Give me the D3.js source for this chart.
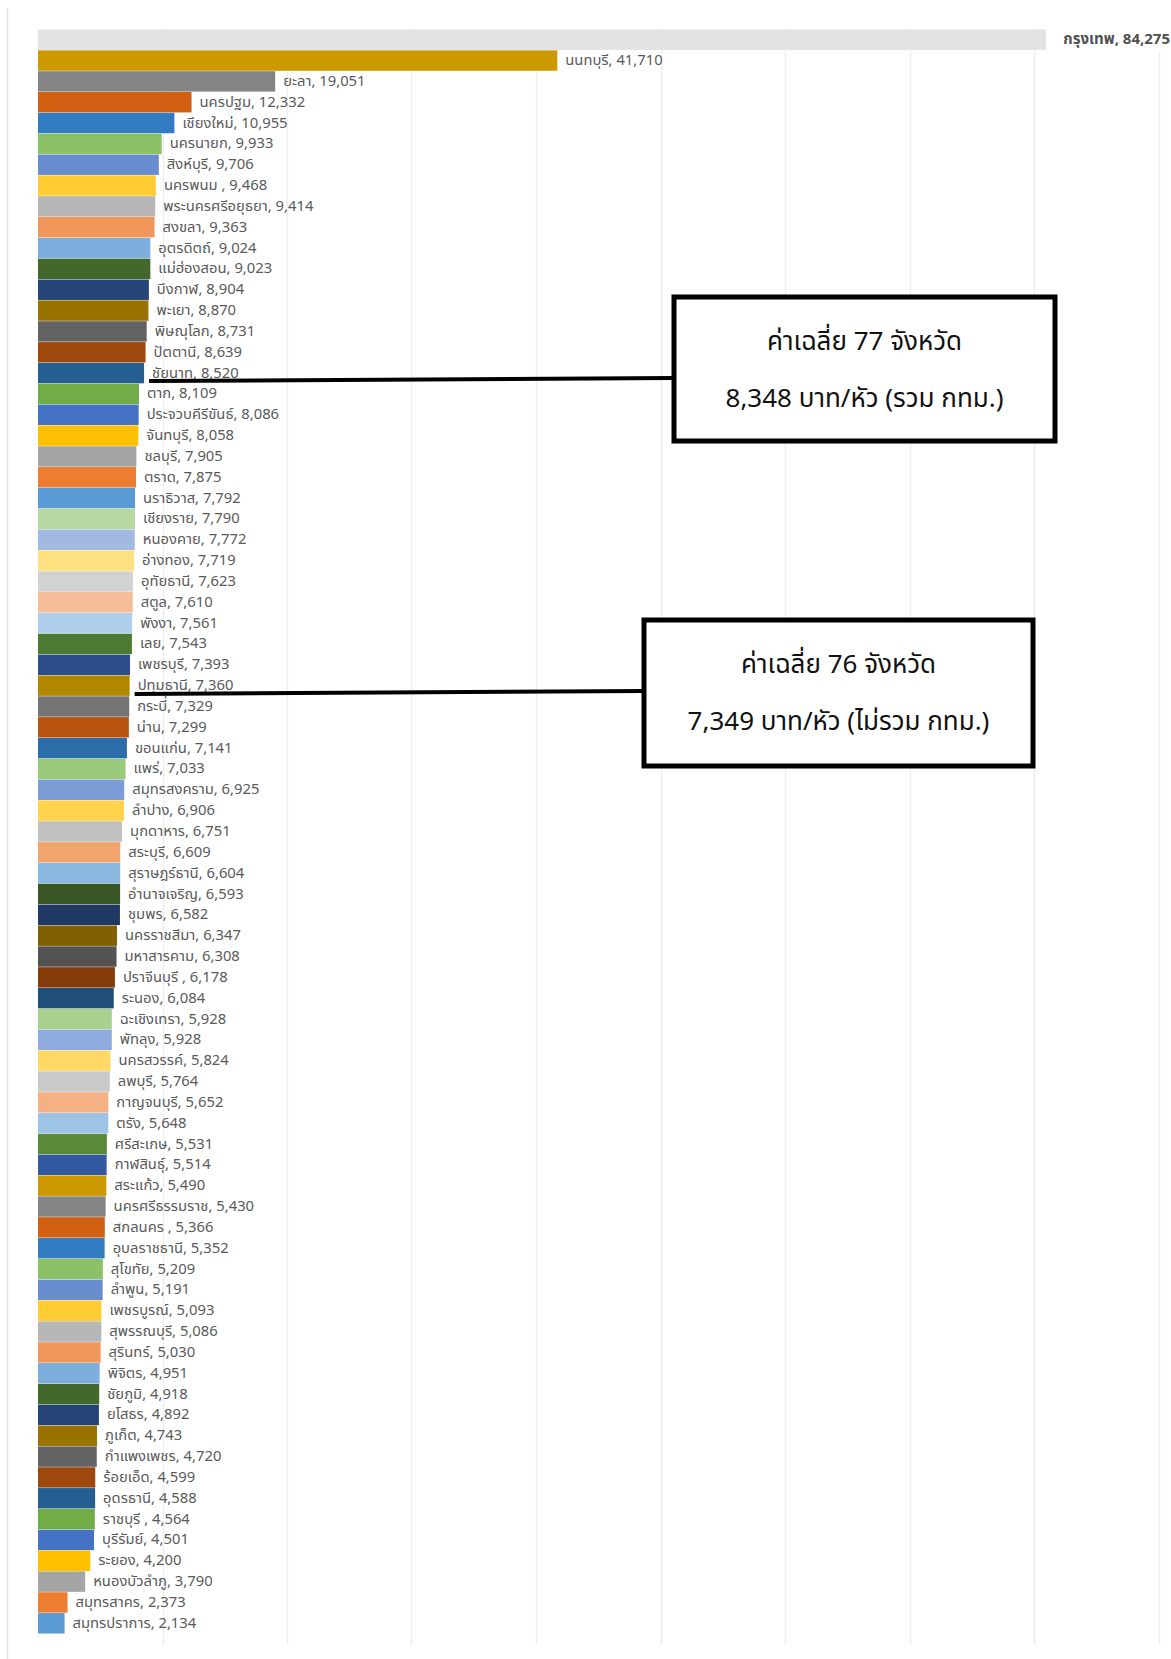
<!DOCTYPE html>
<html>
<head>
<meta charset="utf-8">
<script src="https://cdn.jsdelivr.net/npm/d3@7"></script>
<style>
  html, body { margin: 0; padding: 0; background: #ffffff; }
  svg { display: block; }
</style>
</head>
<body>
<svg id="chart" width="1171" height="1659"></svg>
<script>
// ---------- DATA (top to bottom as drawn) ----------
const provinces = ["กรุงเทพ","นนทบุรี","ยะลา","นครปฐม","เชียงใหม่","นครนายก","สิงห์บุรี","นครพนม ","พระนครศรีอยุธยา","สงขลา",
  "อุตรดิตถ์","แม่ฮ่องสอน","บึงกาฬ","พะเยา","พิษณุโลก","ปัตตานี","ชัยนาท","ตาก","ประจวบคีรีขันธ์","จันทบุรี",
  "ชลบุรี","ตราด","นราธิวาส","เชียงราย","หนองคาย","อ่างทอง","อุทัยธานี","สตูล","พังงา","เลย",
  "เพชรบุรี","ปทุมธานี","กระบี่","น่าน","ขอนแก่น","แพร่","สมุทรสงคราม","ลำปาง","มุกดาหาร","สระบุรี",
  "สุราษฎร์ธานี","อำนาจเจริญ","ชุมพร","นครราชสีมา","มหาสารคาม","ปราจีนบุรี ","ระนอง","ฉะเชิงเทรา","พัทลุง","นครสวรรค์",
  "ลพบุรี","กาญจนบุรี","ตรัง","ศรีสะเกษ","กาฬสินธุ์","สระแก้ว","นครศรีธรรมราช","สกลนคร ","อุบลราชธานี","สุโขทัย",
  "ลำพูน","เพชรบูรณ์","สุพรรณบุรี","สุรินทร์","พิจิตร","ชัยภูมิ","ยโสธร","ภูเก็ต","กำแพงเพชร","ร้อยเอ็ด",
  "อุดรธานี","ราชบุรี ","บุรีรัมย์","ระยอง","หนองบัวลำภู","สมุทรสาคร","สมุทรปราการ"];

const values = [84275,41710,19051,12332,10955,9933,9706,9468,9414,9363,
  9024,9023,8904,8870,8731,8639,8520,8109,8086,8058,
  7905,7875,7792,7790,7772,7719,7623,7610,7561,7543,
  7393,7360,7329,7299,7141,7033,6925,6906,6751,6609,
  6604,6593,6582,6347,6308,6178,6084,5928,5928,5824,
  5764,5652,5648,5531,5514,5490,5430,5366,5352,5209,
  5191,5093,5086,5030,4951,4918,4892,4743,4720,4599,
  4588,4564,4501,4200,3790,2373,2134];

const gridTicks = [10000,20000,30000,40000,50000,60000,70000,80000,90000];

const avgLines1 = ["ค่าเฉลี่ย 77 จังหวัด", "8,348 บาท/หัว (รวม กทม.)"];
const avgLines2 = ["ค่าเฉลี่ย 76 จังหวัด", "7,349 บาท/หัว (ไม่รวม กทม.)"];
const avgAnchors = ["ชัยนาท", "ปทุมธานี"];

// ---------- STYLE ----------
const accents = ["#5B9BD5","#ED7D31","#A5A5A5","#FFC000","#4472C4","#70AD47"];
const variations = [[1,0],[0.6,0],[0.8,0.2],[0.8,0],[0.6,0.4],[0.5,0],[0.7,0.3],[0.7,0],[0.5,0.5]];
function excelColor(i) {
  const base = d3.hsl(accents[i % 6]);
  const v = variations[Math.floor(i / 6) % variations.length];
  base.l = base.l * v[0] + v[1];
  return base.formatHex();
}
const labelFont = "Tahoma, 'Noto Sans Thai', 'Leelawadee UI', 'DejaVu Sans', sans-serif";

const svg = d3.select("#chart");
const n = provinces.length;

const x = d3.scaleLinear().domain([0, 90000]).range([38, 38 + 9 * 124.5]);
const y = d3.scaleBand().domain(provinces).range([29.5, 1633.5]).paddingInner(0.02);

// frame line at left
svg.append("line").attr("x1", 7.5).attr("x2", 7.5).attr("y1", 8).attr("y2", 1659)
  .attr("stroke", "#e4e4e4").attr("stroke-width", 1.5);

// gridlines
svg.append("g").selectAll("line").data(gridTicks).join("line")
  .attr("x1", d => Math.round(x(d)) + 0.5).attr("x2", d => Math.round(x(d)) + 0.5)
  .attr("y1", 29).attr("y2", 1645)
  .attr("stroke", "#eeeeee").attr("stroke-width", 1.5);

// bars
svg.append("g").selectAll("rect").data(provinces).join("rect")
  .attr("x", x(0))
  .attr("y", d => y(d))
  .attr("width", (d, i) => x(values[i]) - x(0))
  .attr("height", y.bandwidth())
  .attr("fill", (d, i) => i === 0 ? "#e3e3e3" : excelColor(n - 1 - i));

// labels
const lbl = svg.append("g").attr("font-family", labelFont).attr("font-size", 14.8);
lbl.selectAll("text").data(provinces.slice(1)).join("text")
  .attr("x", (d, i) => x(values[i + 1]) + 8)
  .attr("y", d => y(d) + y.bandwidth() / 2)
  .attr("dominant-baseline", "central")
  .attr("fill", "#5a5a5a")
  .text((d, i) => d + ", " + d3.format(",")(values[i + 1]));

// Bangkok label (drawn over bar end)
const bkkY = y(provinces[0]) + y.bandwidth() / 2;
svg.append("rect").attr("x", 1046).attr("y", y(provinces[0]) - 2).attr("width", 125).attr("height", y.bandwidth() + 4)
  .attr("fill", "#ffffff");
svg.append("text").attr("x", 1170).attr("y", bkkY)
  .attr("text-anchor", "end").attr("dominant-baseline", "central")
  .attr("font-family", labelFont).attr("font-size", 15).attr("font-weight", "bold")
  .attr("fill", "#505050")
  .text(provinces[0] + ", " + d3.format(",")(values[0]));

// annotation boxes
const boxes = [
  { lines: avgLines1, anchor: avgAnchors[0], bx: 674, by: 297, bw: 381, bh: 144, lineY: 381 },
  { lines: avgLines2, anchor: avgAnchors[1], bx: 644, by: 620, bw: 389, bh: 146, lineY: 694 }
];
boxes.forEach(b => {
  const idx = provinces.indexOf(b.anchor);
  const x0 = x(values[idx]) + 5;
  svg.append("line").attr("x1", x0).attr("x2", b.bx).attr("y1", b.lineY).attr("y2", b.lineY - 3)
    .attr("stroke", "#000").attr("stroke-width", 4);
  svg.append("rect").attr("x", b.bx).attr("y", b.by).attr("width", b.bw).attr("height", b.bh)
    .attr("fill", "#ffffff").attr("stroke", "#000").attr("stroke-width", 5);
  const cx = b.bx + b.bw / 2;
  svg.append("text").attr("x", cx).attr("y", b.by + 53).attr("text-anchor", "middle")
    .attr("font-family", labelFont).attr("font-size", 26).attr("fill", "#111")
    .text(b.lines[0]);
  svg.append("text").attr("x", cx).attr("y", b.by + 110).attr("text-anchor", "middle")
    .attr("font-family", labelFont).attr("font-size", 26).attr("fill", "#111")
    .text(b.lines[1]);
});
</script>
</body>
</html>
